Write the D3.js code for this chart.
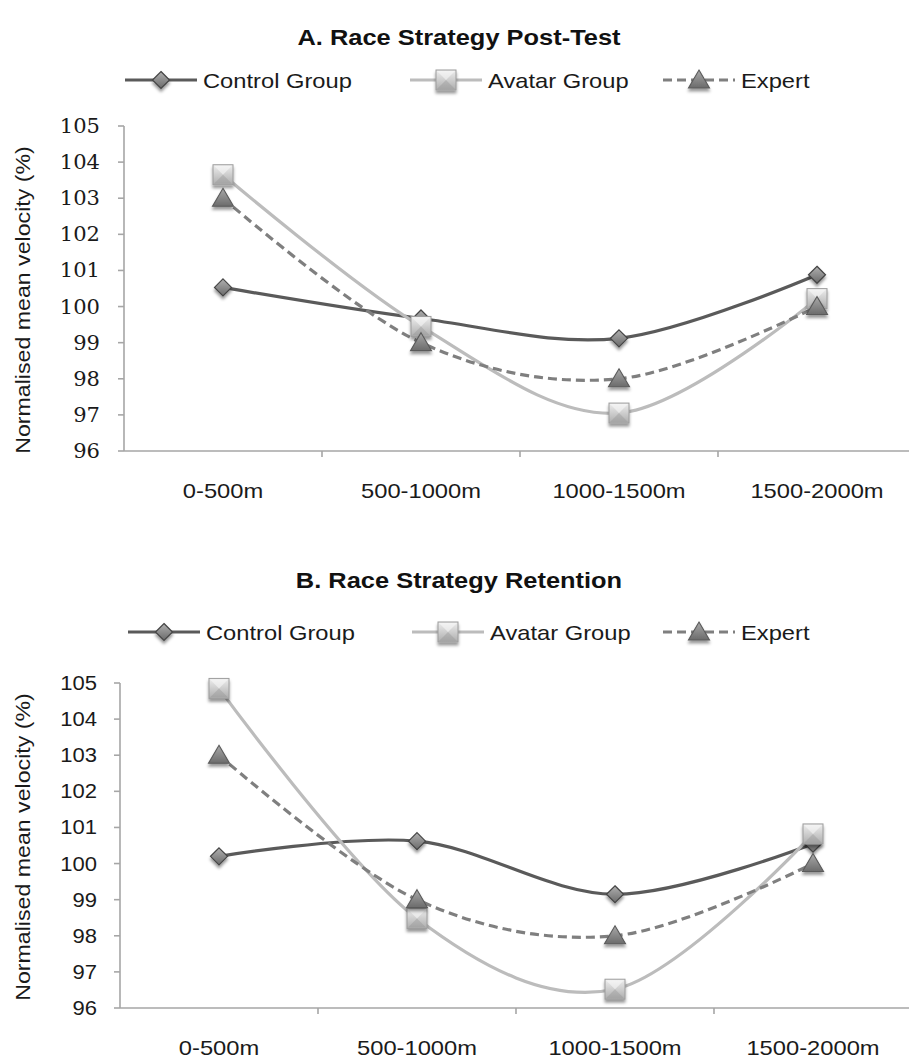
<!DOCTYPE html>
<html>
<head>
<meta charset="utf-8">
<script src="https://cdn.jsdelivr.net/npm/d3@7"></script>
<style>
  html, body { margin: 0; padding: 0; background: #fff; }
  svg { display: block; }
</style>
</head>
<body>
<svg id="chart" width="909" height="1061"></svg>
<script>
// ---- data ----
var categories = ["0-500m", "500-1000m", "1000-1500m", "1500-2000m"];
var yTicks = [96, 97, 98, 99, 100, 101, 102, 103, 104, 105];
var seriesNames = ["Control Group", "Avatar Group", "Expert"];

var postControl = [100.53, 99.67, 99.12, 100.88];
var postAvatar  = [103.65, 99.45, 97.05, 100.22];
var postExpert  = [103.0, 99.0, 98.0, 100.0];

var retControl = [100.2, 100.62, 99.15, 100.55];
var retAvatar  = [104.85, 98.48, 96.52, 100.82];
var retExpert  = [103.0, 99.0, 98.0, 100.0];

(function () {
  "use strict";
  var svg = d3.select("#chart");
  var SANS = "'Liberation Sans', Arial, Helvetica, sans-serif";
  var SERIF = "'DejaVu Serif', 'Liberation Serif', 'Times New Roman', serif";
  var SX = 1.13; // the source font runs wide

  var STYLE = {
    "Control Group": { stroke: "#5a5a5a", dash: null, marker: "diamond" },
    "Avatar Group":  { stroke: "#bcbcbc", dash: null, marker: "square" },
    "Expert":        { stroke: "#7f7f7f", dash: "9 5", marker: "triangle" }
  };

  // defs: shadow + marker fills
  var defs = svg.append("defs");
  var f = defs.append("filter").attr("id", "shadow")
    .attr("x", "-50%").attr("y", "-50%").attr("width", "200%").attr("height", "200%");
  f.append("feDropShadow").attr("dx", 0).attr("dy", 3).attr("stdDeviation", 1.8)
    .attr("flood-color", "#000").attr("flood-opacity", 0.4);
  function grad(id, c1, c2) {
    var g = defs.append("linearGradient").attr("id", id)
      .attr("x1", 0).attr("y1", 0).attr("x2", 0).attr("y2", 1);
    g.append("stop").attr("offset", "0%").attr("stop-color", c1);
    g.append("stop").attr("offset", "100%").attr("stop-color", c2);
  }
  grad("gDiamond", "#b0b0b0", "#6a6a6a");
  grad("gSquare", "#eeeeee", "#adadad");
  grad("gTri", "#a9a9a9", "#6b6b6b");

  function text(g, x, y, str, opt) {
    opt = opt || {};
    return g.append("text")
      .attr("transform", "translate(" + x + "," + y + ") rotate(" + (opt.rot || 0) + ") scale(" + (opt.sx || SX) + ",1)")
      .attr("text-anchor", opt.anchor || "start")
      .style("font-family", opt.family || SANS)
      .style("font-size", (opt.size || 20) + "px")
      .style("font-weight", opt.weight || "normal")
      .attr("fill", opt.fill || "#1a1a1a")
      .text(str);
  }

  function marker(g, kind, cx, cy) {
    var m = g.append("g").attr("transform", "translate(" + cx + "," + cy + ")")
      .attr("filter", "url(#shadow)");
    if (kind === "diamond") {
      m.append("path").attr("d", "M0,-8.5L8.5,0L0,8.5L-8.5,0Z")
        .attr("fill", "url(#gDiamond)").attr("stroke", "#454545").attr("stroke-width", 1.2);
    } else if (kind === "square") {
      m.append("rect").attr("x", -10).attr("y", -10).attr("width", 20).attr("height", 20)
        .attr("fill", "url(#gSquare)").attr("stroke", "#9c9c9c").attr("stroke-width", 1);
      m.append("path").attr("d", "M-9,-9L0,0L9,-9Z").attr("fill", "#fafafa").attr("opacity", 0.55);
      m.append("path").attr("d", "M-9,9L0,0L9,9Z").attr("fill", "#8f8f8f").attr("opacity", 0.35);
    } else {
      m.append("path").attr("d", "M0,-10L10.5,8L-10.5,8Z")
        .attr("fill", "url(#gTri)").attr("stroke", "#5a5a5a").attr("stroke-width", 1.1);
    }
  }

  function panel(opt) {
    var g = svg.append("g");
    var x = d3.scalePoint().domain(categories).range([opt.x0, opt.x1]).padding(0.5);
    var xb = d3.scaleLinear().domain([0, categories.length]).range([opt.x0, opt.x1]);
    var y = d3.scaleLinear().domain([96, 105]).range([opt.yb, opt.yt]);

    // title
    text(g, 459, opt.titleY, opt.title, { anchor: "middle", size: 22.5, weight: "bold", fill: "#111" });

    // legend
    opt.legend.forEach(function (L, i) {
      var s = STYLE[seriesNames[i]];
      g.append("line").attr("x1", L[0]).attr("x2", L[0] + 72)
        .attr("y1", opt.legendY).attr("y2", opt.legendY)
        .attr("stroke", s.stroke).attr("stroke-width", 3.2)
        .attr("stroke-dasharray", s.dash);
      marker(g, s.marker, L[0] + 36, opt.legendY);
      text(g, L[0] + 78, opt.legendY + 7.5, seriesNames[i], { size: 21 });
    });

    // y axis
    var ax = g.append("g").attr("stroke", "#a6a6a6").attr("stroke-width", 1.6);
    ax.append("line").attr("x1", opt.x0).attr("x2", opt.x0)
      .attr("y1", y(105)).attr("y2", y(96));
    yTicks.forEach(function (t) {
      ax.append("line").attr("x1", opt.x0 - 6).attr("x2", opt.x0)
        .attr("y1", y(t)).attr("y2", y(t));
      text(g, opt.x0 - opt.tickGap, y(t) + 7, String(t),
        { anchor: "end", size: opt.tickSize, family: opt.tickFamily, sx: opt.tickSx, fill: "#1a1a1a" });
    });
    // x axis
    ax.append("line").attr("x1", opt.x0).attr("x2", opt.x1)
      .attr("y1", y(96)).attr("y2", y(96));
    d3.range(1, categories.length).forEach(function (i) {
      ax.append("line").attr("x1", xb(i)).attr("x2", xb(i))
        .attr("y1", y(96)).attr("y2", y(96) + 6);
    });
    categories.forEach(function (c) {
      text(g, x(c), opt.catY, c, { anchor: "middle", size: 21 });
    });

    // y title
    text(g, 30, opt.yTitleC, "Normalised mean velocity (%)",
      { anchor: "middle", size: 20.5, rot: -90 });

    // series
    var line = d3.line()
      .x(function (d, i) { return x(categories[i]); })
      .y(function (d) { return y(d); })
      .curve(d3.curveCatmullRom.alpha(0));
    opt.series.forEach(function (vals, i) {
      var s = STYLE[seriesNames[i]];
      g.append("path").attr("d", line(vals)).attr("fill", "none")
        .attr("stroke", s.stroke).attr("stroke-width", 3.2)
        .attr("stroke-dasharray", s.dash);
    });
    opt.series.forEach(function (vals, i) {
      var s = STYLE[seriesNames[i]];
      vals.forEach(function (v, j) { marker(g, s.marker, x(categories[j]), y(v)); });
    });
  }

  panel({
    title: "A. Race Strategy Post-Test", titleY: 45,
    legendY: 80, legend: [[125], [410], [663]],
    x0: 124, x1: 916, yt: 126, yb: 451,
    tickFamily: SERIF, tickSize: 19.5, tickSx: 1.08, tickGap: 24,
    catY: 498, yTitleC: 300,
    series: [postControl, postAvatar, postExpert]
  });

  panel({
    title: "B. Race Strategy Retention", titleY: 588,
    legendY: 632, legend: [[128], [412], [663]],
    x0: 120, x1: 912, yt: 683, yb: 1008,
    tickFamily: SANS, tickSize: 19.5, tickSx: 1.13, tickGap: 23,
    catY: 1055, yTitleC: 847,
    series: [retControl, retAvatar, retExpert]
  });
})();
</script>
</body>
</html>
